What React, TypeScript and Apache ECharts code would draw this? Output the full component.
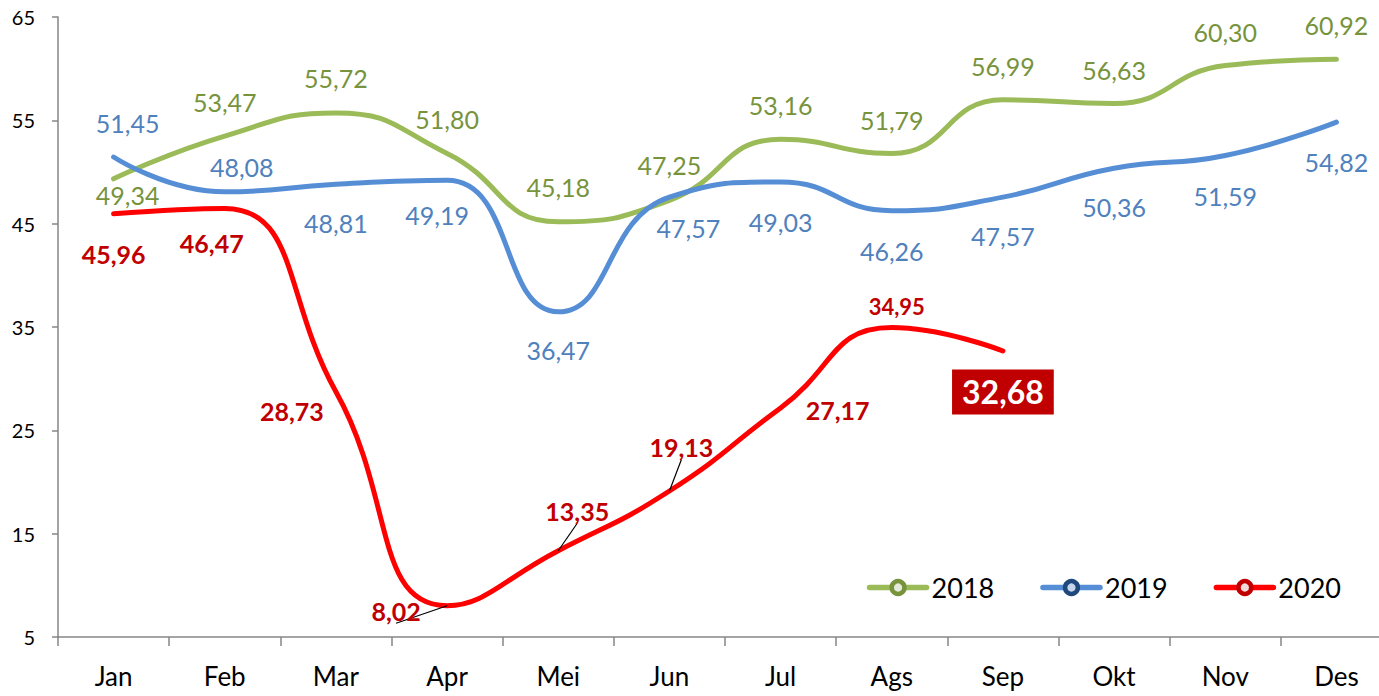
import React, { useEffect, useRef } from 'react';
import * as echarts from 'echarts';

const months = ['Jan', 'Feb', 'Mar', 'Apr', 'Mei', 'Jun', 'Jul', 'Ags', 'Sep', 'Okt', 'Nov', 'Des'];
const v2018 = [49.34, 53.47, 55.72, 51.8, 45.18, 47.25, 53.16, 51.79, 56.99, 56.63, 60.3, 60.92];
const v2019 = [51.45, 48.08, 48.81, 49.19, 36.47, 47.57, 49.03, 46.26, 47.57, 50.36, 51.59, 54.82];
const v2020 = [45.96, 46.47, 28.73, 8.02, 13.35, 19.13, 27.17, 34.95, 32.68];
const seriesNames = ['2018', '2019', '2020'];
const yMin = 5;
const yMax = 65;
const yStep = 10;

// label placement (pixel offsets from each point)
const off2018 = [[14, 16], [0, -34], [0, -35], [0, -34], [0, -35], [0, -35], [0, -34], [0, -34], [0, -34], [0, -33], [0, -34], [0, -34]];
const off2019 = [[14, -34], [17, -25], [0, 39], [-10, 35], [0, 38], [19, 31], [0, 40], [0, 40], [0, 39], [0, 39], [0, 40], [0, 40]];
const off2020 = [[0, 40], [-13, 35], [-44, 19], [-51, 5], [19, -40], [12, -44], [57, 2], [5, -21], [0, 41]];
const leader2020 = [3, 4, 5];

const FONT = 'Lato';
const fmt = (v: number) => v.toFixed(2).replace('.', ',');

export default function App() {
  const ref = useRef<HTMLDivElement>(null);
  useEffect(() => {
    const chart = echarts.init(ref.current!, null, { renderer: 'svg' });

    const mkData = (vals: number[], offs: number[][], leaders: number[] = []) =>
      vals.map((v, i) => {
        const item: any = { value: v, label: { offset: offs[i] } };
        if (leaders.includes(i)) {
          item.labelLine = { show: true, lineStyle: { color: '#000', width: 1.2 } };
        }
        return item;
      });

    const d2020 = mkData(v2020, off2020, leader2020);
    d2020[7].label.fontSize = 22;
    d2020[8].label = {
      offset: off2020[8],
      color: '#fff',
      backgroundColor: '#C00000',
      fontSize: 32,
      padding: [7, 10, 6, 10],
    };

    const lineSeries = (name: string, data: any[], lineColor: string, labelColor: string, bold: boolean) => ({
      name,
      type: 'line',
      data,
      smooth: 0.5,
      symbol: 'circle',
      symbolSize: 0,
      showSymbol: true,
      lineStyle: { color: lineColor, width: 5, cap: 'round' },
      itemStyle: { color: lineColor },
      label: {
        show: true,
        position: 'inside',
        formatter: (p: any) => fmt(p.value),
        color: labelColor,
        fontSize: 25,
        fontFamily: FONT,
        fontWeight: bold ? 'bold' : 'normal',
      },
      emphasis: { disabled: true },
    });

    const option: any = {
      animation: false,
      textStyle: { fontFamily: FONT },
      grid: { left: 58, top: 17, height: 620, width: 1334, containLabel: false, outerBoundsMode: 'none' },
      xAxis: {
        type: 'category',
        data: months,
        boundaryGap: true,
        axisLine: { lineStyle: { color: '#868686', width: 1.5 } },
        axisTick: { show: true, length: 9, lineStyle: { color: '#868686', width: 1.5 } },
        axisLabel: { color: '#000', fontSize: 26, margin: 26, fontFamily: FONT },
        splitLine: { show: false },
      },
      yAxis: {
        type: 'value',
        min: yMin,
        max: yMax,
        interval: yStep,
        axisLine: { show: true, lineStyle: { color: '#868686', width: 1.5 } },
        axisTick: { show: true, length: 6, lineStyle: { color: '#868686', width: 1.5 } },
        axisLabel: { color: '#000', fontSize: 20, margin: 23, fontFamily: FONT },
        splitLine: { show: false },
      },
      legend: {
        right: 33,
        top: 569,
        itemWidth: 57,
        itemHeight: 16,
        itemGap: 46,
        textStyle: { color: '#000', fontSize: 27, fontFamily: FONT },
        data: [
          { name: seriesNames[0], itemStyle: { color: '#E4EBD8', borderColor: '#77933C', borderWidth: 4.5 }, lineStyle: { color: '#9BBB59', width: 5.5 } },
          { name: seriesNames[1], itemStyle: { color: '#C6D5EA', borderColor: '#1F497D', borderWidth: 4.5 }, lineStyle: { color: '#558ED5', width: 5.5 } },
          { name: seriesNames[2], itemStyle: { color: '#F2DCDB', borderColor: '#C00000', borderWidth: 4.5 }, lineStyle: { color: '#FF0000', width: 5.5 } },
        ],
      },
      series: [
        lineSeries(seriesNames[0], mkData(v2018, off2018), '#9BBB59', '#77933C', false),
        lineSeries(seriesNames[1], mkData(v2019, off2019), '#558ED5', '#4F81BD', false),
        lineSeries(seriesNames[2], d2020, '#FF0000', '#C00000', true),
      ],
    };

    chart.setOption(option);
    return () => chart.dispose();
  }, []);

  return <div ref={ref} style={{ position: 'absolute', left: 0, top: 0, width: 1379, height: 696 }} />;
}
